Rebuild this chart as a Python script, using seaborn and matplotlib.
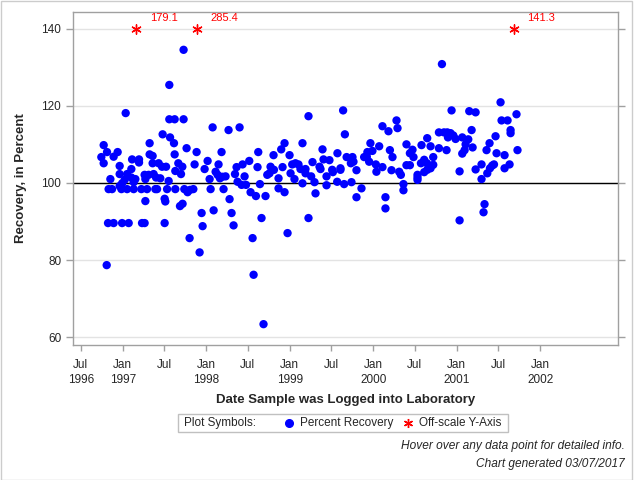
import datetime as dt
import numpy as np
import pandas as pd
import matplotlib
matplotlib.use("Agg")
import matplotlib.pyplot as plt
import matplotlib.dates as mdates
from matplotlib.lines import Line2D
from matplotlib.patches import Rectangle
import seaborn as sns

# ---- data (decimal year of log date, percent recovery) ----
years = [
    1996.743, 1996.771, 1996.771, 1996.811, 1996.807, 1996.830, 1996.871, 1996.851, 1996.890, 1996.938,
    1996.823, 1996.890, 1996.991, 1997.070, 1997.230, 1997.261, 1997.501, 1996.962, 1996.962, 1996.962,
    1996.983, 1996.991, 1997.022, 1997.034, 1997.051, 1997.051, 1997.111, 1997.102, 1997.102, 1997.130,
    1997.130, 1997.150, 1997.194, 1997.194, 1997.222, 1997.261, 1997.270, 1997.270, 1997.290, 1997.309,
    1997.321, 1997.321, 1997.357, 1997.357, 1997.369, 1997.390, 1997.398, 1997.410, 1997.429, 1997.449,
    1997.470, 1997.477, 1997.501, 1997.509, 1997.518, 1997.530, 1997.549, 1997.557, 1997.557, 1997.566,
    1997.613, 1997.621, 1997.621, 1997.629, 1997.629, 1997.665, 1997.685,
    1997.728, 1997.728, 1997.713, 1997.697, 1997.716, 1997.737, 1997.764, 1997.776, 1997.805, 1997.800,
    1997.845, 1997.860, 1997.884, 1997.920, 1997.944, 1997.956, 1997.980, 1998.016, 1998.040, 1998.052,
    1998.076, 1998.088, 1998.112, 1998.136, 1998.147, 1998.164, 1998.183, 1998.192, 1998.207, 1998.231,
    1998.267, 1998.279, 1998.303, 1998.327, 1998.344, 1998.363, 1998.375, 1998.399, 1998.423, 1998.435,
    1998.459, 1998.476, 1998.515, 1998.531, 1998.555, 1998.567, 1998.595, 1998.614, 1998.623, 1998.643,
    1998.662, 1998.686, 1998.710,
    1998.731, 1998.758, 1998.770, 1998.806, 1998.811, 1998.866, 1998.866, 1998.898, 1998.914, 1998.938,
    1998.938, 1998.974, 1998.998, 1999.010, 1999.030, 1999.057, 1999.069, 1999.105, 1999.129, 1999.153,
    1999.153, 1999.189, 1999.189, 1999.225, 1999.225, 1999.257, 1999.273, 1999.297, 1999.309, 1999.357,
    1999.369, 1999.393, 1999.405, 1999.441, 1999.441, 1999.476, 1999.509, 1999.517, 1999.569, 1999.572,
    1999.608, 1999.608, 1999.640, 1999.652, 1999.661,
    1999.682, 1999.733, 1999.740, 1999.752, 1999.764, 1999.800, 1999.800, 1999.860, 1999.892, 1999.924,
    1999.931, 1999.952, 1999.967, 1999.991, 2000.032, 2000.039, 2000.072, 2000.111, 2000.111, 2000.147,
    2000.147, 2000.183, 2000.200, 2000.219, 2000.231, 2000.279, 2000.291, 2000.311, 2000.331, 2000.362,
    2000.362, 2000.398, 2000.398, 2000.439, 2000.439, 2000.470, 2000.482, 2000.530, 2000.530, 2000.530,
    2000.571, 2000.578, 2000.610, 2000.610, 2000.643, 2000.646,
    2000.646, 2000.686, 2000.686, 2000.718, 2000.718, 2000.786, 2000.786, 2000.822, 2000.846, 2000.877,
    2000.886, 2000.894, 2000.925, 2000.937, 2000.958, 2000.985, 2001.033, 2001.033, 2001.065, 2001.065,
    2001.093, 2001.105, 2001.137, 2001.149, 2001.177, 2001.189, 2001.225, 2001.225, 2001.296, 2001.296,
    2001.320, 2001.332, 2001.356, 2001.365, 2001.392, 2001.397, 2001.424, 2001.445, 2001.464, 2001.476,
    2001.524, 2001.536, 2001.572, 2001.572, 2001.608, 2001.632, 2001.644, 2001.644, 2001.715, 2001.727,
]
recovery = [
    106.7, 109.8, 105.1, 108.0, 78.7, 98.4, 98.4, 101.0, 106.8, 108.0,
    89.6, 89.6, 89.6, 89.6, 89.6, 89.6, 89.6, 104.4, 102.3, 99.2,
    98.4, 99.9, 100.8, 118.1, 102.3, 98.4, 106.1, 103.6, 101.4, 100.2,
    98.4, 101.0, 106.1, 105.3, 98.4, 102.1, 101.0, 95.3, 98.4, 102.1,
    110.3, 107.4, 107.0, 105.1, 102.3, 98.4, 101.4, 98.4, 105.1, 101.2,
    104.2, 112.6, 95.9, 95.2, 104.2, 98.4, 100.5, 116.5, 125.4, 111.8,
    110.3, 116.5, 107.4, 103.1, 98.4, 105.1, 94.0,
    116.5, 134.5, 104.2, 102.3, 94.6, 98.4, 109.0, 97.6, 98.2, 85.7,
    98.4, 104.8, 108.0, 82.0, 92.2, 88.8, 103.6, 105.7, 101.0, 98.4,
    114.4, 92.9, 102.9, 102.1, 104.8, 101.2, 108.0, 101.6, 98.4, 101.7,
    113.7, 95.8, 92.2, 89.0, 102.3, 104.1, 100.3, 114.4, 99.5, 104.8,
    101.7, 99.5, 105.7, 97.6, 85.7, 76.2, 96.6, 104.1, 108.0, 99.7,
    90.9, 63.4, 96.6,
    102.1, 102.5, 104.2, 107.2, 103.4, 101.2, 98.6, 108.7, 104.1, 110.3,
    97.6, 87.0, 107.2, 102.5, 104.8, 101.0, 105.1, 104.8, 103.6, 110.3,
    99.9, 103.6, 102.5, 117.3, 90.9, 101.7, 105.4, 100.2, 97.3, 104.2,
    103.6, 108.7, 106.1, 101.7, 99.4, 105.9, 103.4, 102.8, 100.3, 107.7,
    103.8, 103.4, 118.8, 99.7, 112.6,
    106.7, 105.1, 100.2, 106.7, 105.5, 103.3, 96.3, 98.6, 106.7, 106.8,
    108.0, 105.5, 110.3, 108.3, 104.8, 102.9, 109.5, 114.7, 104.1, 96.3,
    93.4, 113.4, 108.5, 103.3, 106.7, 116.2, 114.2, 102.9, 102.1, 99.7,
    98.1, 110.0, 104.6, 107.7, 104.6, 108.6, 106.7, 102.1, 101.4, 100.8,
    105.1, 109.8, 106.0, 102.8, 105.1, 111.6,
    103.4, 109.5, 103.8, 106.7, 104.7, 113.1, 109.0, 130.8, 113.1, 108.5,
    113.1, 111.8, 112.9, 118.8, 112.3, 111.4, 103.0, 90.3, 111.8, 107.6,
    108.5, 110.0, 111.3, 118.6, 113.7, 109.2, 118.3, 103.5, 104.8, 101.0,
    92.4, 94.5, 108.5, 102.5, 110.3, 103.8, 104.5, 104.8, 112.1, 107.7,
    120.9, 116.2, 107.2, 103.8, 116.2, 104.8, 113.7, 112.9, 117.8, 108.5,
]

# off-scale results (drawn at the top of the axis)
off_years = [1997.159, 1997.889, 2001.680]
off_values = [179.1, 285.4, 141.3]
off_cap = 140

target = 100
y_ticks = [60, 80, 100, 120, 140]
tick_dates = ["1996-07-01", "1997-01-01", "1997-07-01", "1998-01-01", "1998-07-01",
              "1999-01-01", "1999-07-01", "2000-01-01", "2000-07-01", "2001-01-01",
              "2001-07-01", "2002-01-01"]
tick_labels = ["Jul\n1996", "Jan\n1997", "Jul", "Jan\n1998", "Jul", "Jan\n1999",
               "Jul", "Jan\n2000", "Jul", "Jan\n2001", "Jul", "Jan\n2002"]


def frac_year_to_date(y):
    yr = int(np.floor(y))
    start = dt.datetime(yr, 1, 1)
    end = dt.datetime(yr + 1, 1, 1)
    return start + (end - start) * (y - yr)


sns.set_style("white")
plt.rcParams['font.family'] = ['Liberation Sans', 'DejaVu Sans']

fig = plt.figure(figsize=(6.4, 4.8), dpi=100)
W, H = 640.0, 480.0
ax = fig.add_axes([73 / W, 1 - 345 / H, (618 - 73) / W, (345 - 12) / H])

df = pd.DataFrame({"date": [frac_year_to_date(y) for y in years], "recovery": recovery})
off = pd.DataFrame({"date": [frac_year_to_date(y) for y in off_years],
                    "cap": [off_cap] * len(off_years), "value": off_values})

sns.scatterplot(data=df, x="date", y="recovery", ax=ax, color="#0000ff", s=36,
                edgecolor="none", linewidth=0, zorder=3, legend=False)
sns.scatterplot(data=off, x="date", y="cap", ax=ax, color="#ff0000", marker=(6, 2, 0),
                s=45, linewidth=1.0, zorder=3, legend=False)
for d, v in zip(off["date"], off["value"]):
    ax.annotate(f"{v:.1f}", (mdates.date2num(d), off_cap), xytext=(10, 7.5),
                textcoords="offset points", color="#ff0000", fontsize=8,
                ha="left", va="center")

ax.axhline(target, color="black", lw=1, zorder=2)
ax.set_ylim(58, 144.3)
ax.set_yticks(y_ticks)
ax.yaxis.grid(True, color="#e3e3e3", lw=1)
ax.set_axisbelow(True)

ax.set_xlim(mdates.date2num(dt.datetime(1996, 5, 28)), mdates.date2num(dt.datetime(2002, 12, 7)))
ax.set_xticks([mdates.date2num(pd.Timestamp(d)) for d in tick_dates])
ax.set_xticklabels(tick_labels, linespacing=1.3)

for sp in ax.spines.values():
    sp.set_color("#a0a0a0")
    sp.set_linewidth(1)

ax.tick_params(axis="y", direction="out", length=5, width=1, color="#a0a0a0",
               left=True, right=True, labelright=False, labelsize=8.5, pad=3.5)
ax.tick_params(axis="x", direction="out", length=4, width=1, color="#a0a0a0",
               bottom=True, labelsize=8.5, pad=6)

ax.set_xlabel("Date Sample was Logged into Laboratory", fontsize=9.5, fontweight="bold")
ax.set_ylabel("Recovery, in Percent", fontsize=9.5, fontweight="bold")
ax.xaxis.set_label_coords(0.5, (345 - 394) / 333.0)
ax.yaxis.set_label_coords((27 - 73) / 545.0, 0.5)

# legend box
lx0, lx1, ly0, ly1 = 178, 508, 414, 432
fig.patches.append(Rectangle((lx0 / W, 1 - ly1 / H), (lx1 - lx0) / W, (ly1 - ly0) / H,
                             transform=fig.transFigure, facecolor="white",
                             edgecolor="#c0c0c0", lw=1))
ly = 1 - 423 / H
fig.text(184 / W, ly, "Plot Symbols:", fontsize=8.5, va="center", ha="left")
fig.lines.append(Line2D([289 / W], [ly], transform=fig.transFigure, marker="o",
                        color="#0000ff", markersize=5.5, linestyle="none"))
fig.text(300 / W, ly, "Percent Recovery", fontsize=8.5, va="center", ha="left")
fig.lines.append(Line2D([408 / W], [ly], transform=fig.transFigure, marker=(6, 2, 0),
                        color="#ff0000", markersize=6.5, mew=1.0, linestyle="none"))
fig.text(419 / W, ly, "Off-scale Y-Axis", fontsize=8.5, va="center", ha="left")

fig.text(625 / W, 1 - 446.5 / H, "Hover over any data point for detailed info.",
         fontsize=8.6, style="italic", ha="right", va="center")
fig.text(625 / W, 1 - 463.5 / H, "Chart generated 03/07/2017",
         fontsize=8.6, style="italic", ha="right", va="center")

fig.patches.append(Rectangle((0.5 / W, 0.5 / H), 631 / W, 478.5 / H, transform=fig.transFigure,
                             facecolor="none", edgecolor="#cccccc", lw=1))

fig.savefig("out.png", dpi=100, facecolor="white")
